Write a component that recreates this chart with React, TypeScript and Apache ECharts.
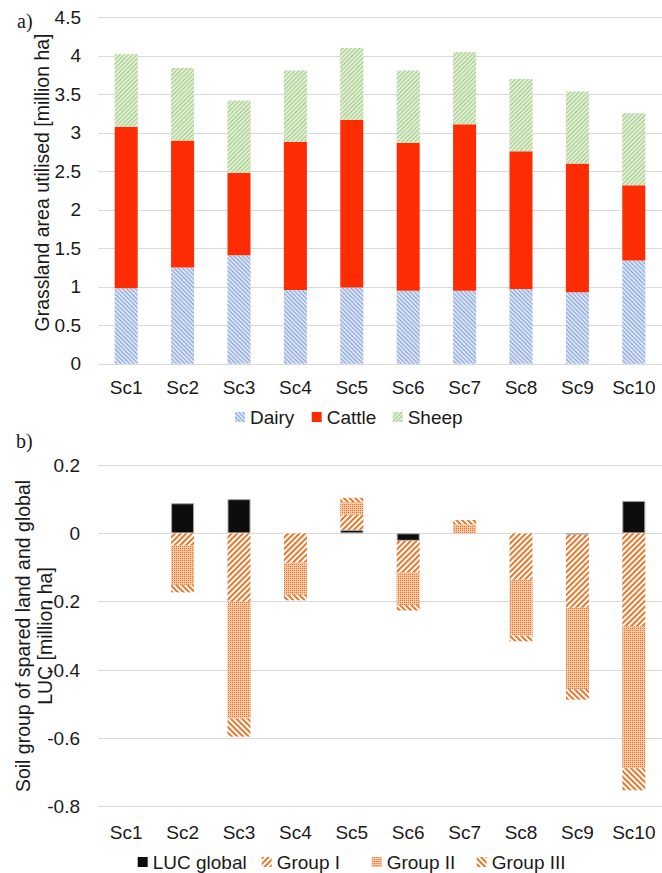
import React, { useEffect, useRef } from "react";
import * as echarts from "echarts";

const categories = ["Sc1", "Sc2", "Sc3", "Sc4", "Sc5", "Sc6", "Sc7", "Sc8", "Sc9", "Sc10"];

// a) Grassland area utilised [million ha]
const dairy = [0.98, 1.25, 1.41, 0.96, 0.99, 0.95, 0.95, 0.97, 0.93, 1.34];
const cattle = [2.1, 1.65, 1.07, 1.92, 2.18, 1.92, 2.16, 1.79, 1.67, 0.98];
const sheep = [0.94, 0.94, 0.94, 0.93, 0.93, 0.94, 0.94, 0.94, 0.935, 0.935];

// b) Soil group of spared land and global LUC [million ha]
const lucGlobal = [0, 0.088, 0.1, 0, 0.01, -0.022, 0, 0, -0.004, 0.095];
const group1 = [0, -0.036, -0.2, -0.086, 0.045, -0.093, 0, -0.136, -0.214, -0.272];
const group2 = [0, -0.115, -0.342, -0.094, 0.036, -0.095, 0.026, -0.164, -0.238, -0.415];
const group3 = [0, -0.022, -0.053, -0.016, 0.013, -0.016, 0.013, -0.016, -0.031, -0.065];

const FONT = '"Liberation Sans", Arial, Helvetica, sans-serif';
const SERIF = '"Liberation Serif", "Times New Roman", serif';
const TXT = "#1a1a1a";

const nz = (arr: number[]) => arr.map((v) => (v === 0 ? "-" : v));

export default function App() {
  const ref = useRef<HTMLDivElement>(null);
  useEffect(() => {
    if (!ref.current) return;
    const chart = echarts.init(ref.current, undefined, { renderer: "svg" });

    const stripes = (color: string, rot: number, dy: number[]) => ({
      symbol: "rect",
      symbolSize: 1,
      color,
      dashArrayX: [1, 0],
      dashArrayY: dy,
      rotation: rot,
    });

    const label = { color: TXT, fontSize: 19, fontFamily: FONT };
    const fmt = (v: number) => String(Math.round(v * 10) / 10);
    const barW = 23;

    const legendItem = (name: string, left: number, top: number) => ({
      data: [name],
      left,
      top,
      padding: 0,
      itemWidth: 10,
      itemHeight: 10,
      itemGap: 0,
      icon: "rect",
      selectedMode: false,
      itemStyle: { borderWidth: 0 },
      textStyle: { color: TXT, fontSize: 19, fontFamily: FONT },
    });

    const option: any = {
      animation: false,
      textStyle: { fontFamily: FONT },
      grid: [
        { left: 98, top: 17.3, width: 567.5, height: 346.5 },
        { left: 98, top: 465, width: 567.5, height: 341.7 },
      ],
      xAxis: [
        {
          type: "category",
          gridIndex: 0,
          data: categories,
          axisLine: { show: false },
          axisTick: { show: false },
          axisLabel: { ...label, margin: 14 },
        },
        {
          type: "category",
          gridIndex: 1,
          data: categories,
          position: "bottom",
          axisLine: { show: false, onZero: false },
          axisTick: { show: false },
          axisLabel: { ...label, margin: 16 },
        },
      ],
      yAxis: [
        {
          type: "value",
          gridIndex: 0,
          min: 0,
          max: 4.5,
          interval: 0.5,
          axisLine: { show: false },
          axisTick: { show: false },
          splitLine: { lineStyle: { color: "#d9d9d9", width: 1 } },
          axisLabel: { ...label, margin: 17, formatter: fmt },
        },
        {
          type: "value",
          gridIndex: 1,
          min: -0.8,
          max: 0.2,
          interval: 0.2,
          axisLine: { show: false },
          axisTick: { show: false },
          splitLine: { lineStyle: { color: "#d9d9d9", width: 1 } },
          axisLabel: { ...label, margin: 18, formatter: fmt },
        },
      ],
      legend: [
        legendItem("Dairy", 235, 407.5),
        legendItem("Cattle", 311.7, 407.5),
        legendItem("Sheep", 392.7, 407.5),
        legendItem("LUC global", 137.7, 852.5),
        legendItem("Group I", 261.7, 852.5),
        legendItem("Group II", 371.7, 852.5),
        legendItem("Group III", 476.7, 852.5),
      ],
      series: [
        {
          name: "Dairy",
          type: "bar",
          xAxisIndex: 0,
          yAxisIndex: 0,
          stack: "top",
          barWidth: barW,
          data: dairy,
          itemStyle: { color: "#d8e2f3", decal: stripes("#86a4da", Math.PI / 4, [1, 2]) },
        },
        {
          name: "Cattle",
          type: "bar",
          xAxisIndex: 0,
          yAxisIndex: 0,
          stack: "top",
          barWidth: barW,
          data: cattle,
          itemStyle: { color: "#fe2c02" },
        },
        {
          name: "Sheep",
          type: "bar",
          xAxisIndex: 0,
          yAxisIndex: 0,
          stack: "top",
          barWidth: barW,
          data: sheep,
          itemStyle: { color: "#e0eed6", decal: stripes("#a2cc86", -Math.PI / 4, [1, 2]) },
        },
        {
          name: "LUC global",
          type: "bar",
          xAxisIndex: 1,
          yAxisIndex: 1,
          stack: "bot",
          barWidth: barW,
          data: nz(lucGlobal),
          itemStyle: { color: "#0d0d0d", borderColor: "#a6a6a6", borderWidth: 1 },
        },
        {
          name: "Group I",
          type: "bar",
          xAxisIndex: 1,
          yAxisIndex: 1,
          stack: "bot",
          barWidth: barW,
          data: nz(group1),
          itemStyle: { color: "#ffffff", decal: stripes("#e8772a", -Math.PI / 4, [2, 2]) },
        },
        {
          name: "Group II",
          type: "bar",
          xAxisIndex: 1,
          yAxisIndex: 1,
          stack: "bot",
          barWidth: barW,
          data: nz(group2),
          itemStyle: {
            color: "#f7c7a3",
            decal: {
              symbol: "rect",
              symbolSize: 1,
              color: "#e2712a",
              dashArrayX: [1, 1],
              dashArrayY: [1, 1],
              rotation: 0,
            },
          },
        },
        {
          name: "Group III",
          type: "bar",
          xAxisIndex: 1,
          yAxisIndex: 1,
          stack: "bot",
          barWidth: barW,
          data: nz(group3),
          itemStyle: { color: "#ffffff", decal: stripes("#e8772a", Math.PI / 4, [2, 2]) },
        },
      ],
      graphic: [
        {
          type: "text",
          left: 17,
          top: 11,
          style: { text: "a)", fontSize: 20, fontFamily: SERIF, fill: TXT },
        },
        {
          type: "text",
          left: 16,
          top: 431,
          style: { text: "b)", fontSize: 20, fontFamily: SERIF, fill: TXT },
        },
        {
          type: "text",
          x: 42,
          y: 182.5,
          rotation: Math.PI / 2,
          style: {
            text: "Grassland area utilised [million ha]",
            fontSize: 19.5,
            fontFamily: FONT,
            fill: TXT,
            align: "center",
            verticalAlign: "middle",
          },
        },
        {
          type: "text",
          x: 34,
          y: 636,
          rotation: Math.PI / 2,
          style: {
            text: "Soil group of spared land and global\nLUC [million ha]",
            fontSize: 19.5,
            lineHeight: 22,
            fontFamily: FONT,
            fill: TXT,
            align: "center",
            verticalAlign: "middle",
          },
        },
      ],
    };

    chart.setOption(option);
    return () => chart.dispose();
  }, []);

  return (
    <div
      ref={ref}
      style={{ position: "absolute", left: 0, top: 0, width: 662, height: 873, background: "#fff" }}
    />
  );
}
